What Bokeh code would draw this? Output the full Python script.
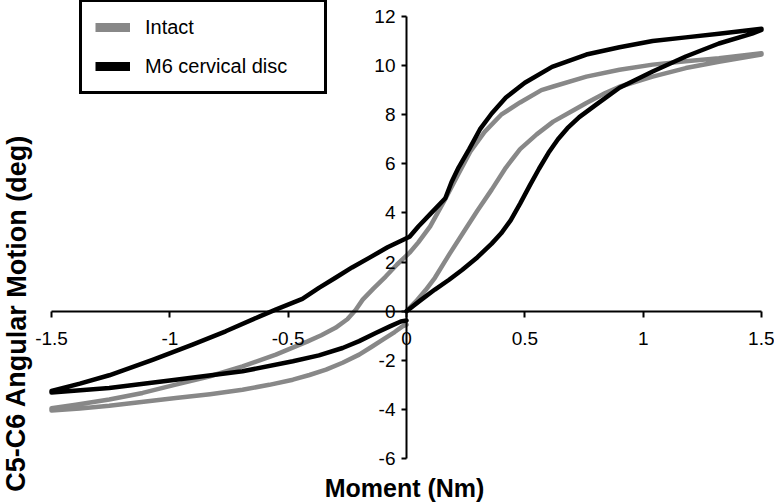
import numpy as np
from bokeh.plotting import figure
from bokeh.models import Legend, LegendItem, Label, FixedTicker, ColumnDataSource
from bokeh.embed import file_html
from bokeh.resources import INLINE

# ---------------- data ----------------
series_names = ["Intact", "M6 cervical disc"]
x_title = "Moment (Nm)"
y_title = "C5-C6 Angular Motion (deg)"
x_ticks = [-1.5, -1, -0.5, 0, 0.5, 1, 1.5]
x_tick_labels = ["-1.5", "-1", "-0.5", "0", "0.5", "1", "1.5"]
y_ticks = [-6, -4, -2, 0, 2, 4, 6, 8, 10, 12]
y_tick_labels = ["-6", "-4", "-2", "0", "2", "4", "6", "8", "10", "12"]

# Intact: loading 0 -> 1.5, unloading 1.5 -> -1.5, loading -1.5 -> 0
intact_x = [0, 0.04, 0.08, 0.12, 0.18, 0.24, 0.30, 0.36, 0.42, 0.48, 0.55, 0.62, 0.70, 0.76, 0.84, 0.90, 1.04, 1.18, 1.32, 1.50,
            1.50, 1.32, 1.18, 1.04, 0.90, 0.76, 0.62, 0.57, 0.48, 0.40, 0.33, 0.27, 0.22, 0.16, 0.10, 0.05, 0.013,
            -0.04, -0.088, -0.14, -0.185, -0.215, -0.25, -0.30, -0.36, -0.42, -0.552, -0.693, -0.834, -0.975, -1.115, -1.256, -1.397, -1.50,
            -1.50, -1.38, -1.256, -1.12, -0.975, -0.83, -0.693, -0.58, -0.48, -0.41, -0.34, -0.27, -0.20, -0.15, -0.10, -0.05, -0.017, 0.0]
intact_y = [0, 0.4, 0.85, 1.36, 2.3, 3.2, 4.1, 4.95, 5.85, 6.6, 7.2, 7.72, 8.15, 8.48, 8.88, 9.14, 9.55, 9.9, 10.16, 10.45,
            10.5, 10.3, 10.18, 10.04, 9.83, 9.55, 9.15, 9.0, 8.5, 8.0, 7.3, 6.5, 5.6, 4.5, 3.45, 2.8, 2.38,
            1.9, 1.41, 0.92, 0.47, 0.05, -0.33, -0.68, -0.98, -1.24, -1.77, -2.25, -2.66, -2.99, -3.33, -3.6, -3.81, -3.95,
            -4.05, -3.96, -3.85, -3.7, -3.54, -3.38, -3.2, -3.0, -2.79, -2.6, -2.38, -2.1, -1.77, -1.47, -1.16, -0.85, -0.62, -0.55]

# M6 cervical disc
m6_x = [0, 0.06, 0.12, 0.18, 0.236, 0.30, 0.36, 0.40, 0.44, 0.48, 0.52, 0.56, 0.60, 0.64, 0.68, 0.73, 0.80, 0.90, 1.04, 1.18, 1.32, 1.46, 1.50,
        1.50, 1.32, 1.18, 1.04, 0.90, 0.76, 0.615, 0.50, 0.42, 0.36, 0.31, 0.265, 0.22, 0.19, 0.164, 0.10, 0.05, 0.013,
        -0.08, -0.156, -0.23, -0.30, -0.37, -0.44, -0.553, -0.62, -0.764, -0.904, -1.073, -1.256, -1.38, -1.50,
        -1.50, -1.256, -0.975, -0.693, -0.48, -0.37, -0.27, -0.20, -0.13, -0.07, -0.024, 0.0]
m6_y = [0, 0.45, 0.88, 1.28, 1.69, 2.2, 2.75, 3.17, 3.7, 4.38, 5.1, 5.8, 6.45, 7.0, 7.45, 7.9, 8.4, 9.1, 9.76, 10.37, 10.9, 11.3, 11.45,
        11.5, 11.3, 11.15, 11.0, 10.75, 10.45, 9.95, 9.3, 8.7, 8.05, 7.4, 6.6, 5.85, 5.25, 4.6, 3.95, 3.45, 3.03,
        2.6, 2.18, 1.78, 1.36, 0.95, 0.5, 0.06, -0.21, -0.82, -1.36, -1.98, -2.61, -2.95, -3.25,
        -3.31, -3.13, -2.79, -2.45, -2.04, -1.8, -1.5, -1.22, -0.89, -0.62, -0.42, -0.38]

colors = ["#888888", "#000000"]
FONT = "Liberation Sans"

# ---------------- layout ----------------
W, H = 774, 503
PX_X = 710.0 / 3.0      # pixels per Nm
PX_Y = 442.0 / 18.0     # pixels per degree
LEFT, RIGHT, TOP, BOTTOM = 51, 13, 16, 45   # distances of the axis box from the canvas edges

p = figure(width=W, height=H,
           x_range=(-1.5 - LEFT / PX_X, 1.5 + RIGHT / PX_X),
           y_range=(-6 - BOTTOM / PX_Y, 12 + TOP / PX_Y),
           output_backend="svg", toolbar_location=None,
           min_border_left=0, min_border_right=0, min_border_top=0, min_border_bottom=0)
p.grid.visible = False
p.outline_line_color = None
p.background_fill_color = "white"
p.border_fill_color = "white"

for ax in (p.xaxis, p.yaxis):
    ax.fixed_location = 0
    ax.axis_line_width = 2
    ax.axis_line_color = "black"
    ax.major_tick_line_width = 2
    ax.major_tick_line_color = "black"
    ax.major_tick_in = 0
    ax.minor_tick_line_color = None
    ax.major_label_text_font = FONT
    ax.major_label_text_font_size = "19px"
    ax.major_label_text_color = "black"

p.xaxis.bounds = (-1.5, 1.5)
p.yaxis.bounds = (-6, 12)
p.xaxis.ticker = FixedTicker(ticks=x_ticks)
p.yaxis.ticker = FixedTicker(ticks=y_ticks)
p.xaxis.major_tick_out = 6
p.yaxis.major_tick_out = 5
p.xaxis.major_label_standoff = 15
p.yaxis.major_label_standoff = 6
p.xaxis.major_label_overrides = {t: lab for t, lab in zip(x_ticks, x_tick_labels)}
p.yaxis.major_label_overrides = {t: lab for t, lab in zip(y_ticks, y_tick_labels)}

src_i = ColumnDataSource(dict(x=intact_x, y=intact_y))
src_m = ColumnDataSource(dict(x=m6_x, y=m6_y))
p.line("x", "y", source=src_i, line_color=colors[0], line_width=4.5, line_join="round", line_cap="round")
p.line("x", "y", source=src_m, line_color=colors[1], line_width=4.5, line_join="round", line_cap="round")

# legend with thick swatches (location = bottom-left corner of the box)
dummy = []
for c in colors:
    dsrc = ColumnDataSource(dict(x=np.array([np.nan]), y=np.array([np.nan])))
    dummy.append(p.line("x", "y", source=dsrc, line_color=c, line_width=9))
legend = Legend(items=[LegendItem(label=n, renderers=[r]) for n, r in zip(series_names, dummy)],
                location=(79, H - 94), orientation="vertical",
                glyph_width=35, glyph_height=24, label_height=24, label_width=166,
                label_standoff=15, spacing=15, padding=13, margin=0,
                label_text_font=FONT, label_text_font_size="20px", label_text_color="black",
                border_line_color="#000000", border_line_width=3, border_line_alpha=1.0,
                background_fill_color="white", background_fill_alpha=1.0)
p.add_layout(legend, "center")

# axis titles
p.add_layout(Label(x=0, y=-6, x_offset=-2, y_offset=-29, text=x_title, text_align="center",
                   text_baseline="alphabetic", text_font=FONT, text_font_style="bold",
                   text_font_size="25px", text_color="black"))
p.add_layout(Label(x=-1.5, y=0, x_offset=-35, y_offset=-2, text=y_title, angle=1.5707963,
                   text_align="center", text_baseline="middle", text_font=FONT,
                   text_font_style="bold", text_font_size="27px", text_color="black"))

open("out.html", "w").write(file_html(p, INLINE))
